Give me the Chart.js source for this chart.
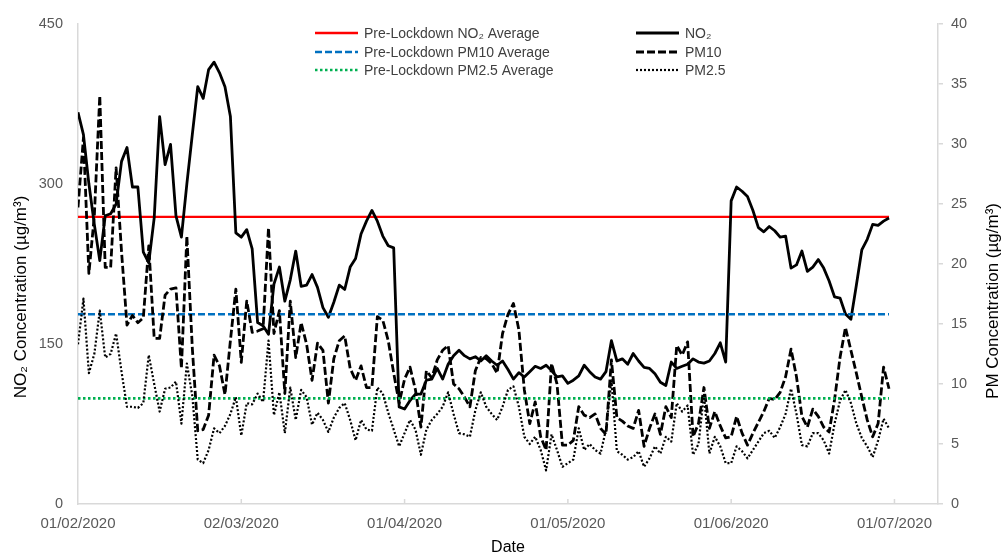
<!DOCTYPE html>
<html>
<head>
<meta charset="utf-8">
<script src="https://cdn.jsdelivr.net/npm/chart.js@4.4.1/dist/chart.umd.min.js"></script>
<style>
html,body{margin:0;padding:0;background:#fff;overflow:hidden}
#wrap{width:1002px;height:559px}
</style>
</head>
<body>
<div id="wrap"><canvas id="c" width="1002" height="559"></canvas></div>
<script>
// ---- data (daily values from 01/02/2020) ----
const no2 = [
367,346,300,262,228,270,272,281,321,334,
297,297,236,226,268,363,318,337,270,250,
300,346,391,380,407,414,404,391,363,254,
250,257,239,170,167,159,206,222,190,210,
237,204,205,215,203,184,175,189,205,201,
222,230,253,265,275,265,251,242,240,91,
89,97,103,103,116,117,127,117,131,139,
144,139,136,138,134,139,134,130,134,126,
117,123,119,124,129,127,130,125,119,120,
113,116,120,130,124,119,117,124,153,134,
136,131,141,134,128,127,122,114,111,133,
127,129,131,136,133,132,134,141,151,133,
284,297,293,288,275,259,255,260,256,250,
251,221,224,237,218,222,229,221,209,194,
193,178,173,205,238,248,262,261,265,268
];
const pm10 = [
24.7,30.5,19.2,24,34,19.7,19.7,28,21,14.9,
15.7,15.1,15.5,21.5,13.8,13.8,17.4,17.9,18,11.3,
22.3,13,6.1,6.2,7.4,12.4,11.5,9.1,13.6,17.9,
11.8,16.9,14.3,14.4,14.6,23,14.2,16.1,9.2,16.9,
12.2,15.1,13.3,10.3,13.4,12.8,8.4,12.1,13.6,14,
11.3,10.3,11.5,9.7,9.7,15.6,15.3,13.6,10.9,8.4,
10.4,11.4,9.5,6.4,11.1,10.5,12,12.8,13.2,10,
9.6,8.9,8.1,11.1,12.2,12.1,11.7,10.9,14.2,15.8,
16.7,14.5,9.5,6.7,8.5,5.6,4.5,11.7,10,4.9,
4.9,5.3,8.1,7.4,7.2,7.5,6.3,5.8,12,7.2,
6.9,6.5,6.3,7.8,4.8,6.3,7.5,5.8,8.1,7.2,
13.2,12.4,13.5,5.6,6.7,9.7,6.3,7.7,6.5,5.5,
5.6,7.3,5.9,4.9,5.9,6.8,7.7,8.8,8.7,9.3,
10.6,12.9,10.6,7.3,6.4,7.9,7.3,6.4,6,8.7,
12.2,14.7,12.8,10.9,8.9,7,5.6,6.7,11.4,9.6
];
const pm25 = [
13.3,17.1,10.9,12.5,16.1,12.2,12.5,14.2,11,8.1,
8.1,8,8.4,12.4,10,7.7,9.6,9.7,10.2,6.7,
11.7,9,3.7,3.4,4.5,6.3,5.9,6.5,7.5,8.9,
5.7,8.4,8.3,9.2,8.5,13.6,7.4,9.3,5.9,9.7,
7,9.5,8.9,6.6,7.6,7,6,7.2,8,8.4,
7,5.3,7,6.2,6.1,9.7,9.2,7.6,6.2,4.8,
5.9,7,6.2,4.1,6.2,7,7.5,8.1,9.3,7.5,
5.9,5.8,5.6,7.8,9.3,8.1,7.5,7,8.1,9.5,
9.8,8.1,5.6,5,5.6,4.5,2.8,5.8,4.5,3.1,
3.4,3.7,6.3,4.5,5,4.5,4.2,6.2,10.3,4.4,
4.1,3.7,3.9,4.4,3.1,3.8,4.8,4.2,5.6,5.2,
8.4,7.7,8.2,4.1,5,9.1,4.2,5.6,4.8,3.4,
3.4,4.8,4.4,3.8,4.5,5.2,5.9,6.1,5.5,6.4,
7.5,9.6,7.5,4.9,4.8,5.9,5.9,5.3,4.2,6.7,
8.6,9.5,8.4,6.7,5.5,4.8,3.9,5.3,7.1,6.3
];
const preLockdownAvg = [269, 15.8, 8.8];   // NO2, PM10, PM2.5
const tickDays = [0, 30, 60, 90, 120, 150];
const tickLabels = ['01/02/2020','02/03/2020','01/04/2020','01/05/2020','01/06/2020','01/07/2020'];
const leftTicks = [0, 150, 300, 450];
const rightTicks = [0, 5, 10, 15, 20, 25, 30, 35, 40];
const seriesLabels = ['Pre-Lockdown NO\u2082 Average','Pre-Lockdown PM10 Average','Pre-Lockdown PM2.5 Average','NO\u2082','PM10','PM2.5'];
const axisTitles = ['NO\u2082 Concentration (\u00B5g/m\u00B3)', 'PM Concentration (\u00B5g/m\u00B3)', 'Date'];

// ---- build ----
const FONT = "'Liberation Sans', Arial, sans-serif";
const pts = arr => arr.map((v, i) => ({x: i, y: v}));
const lastDay = no2.length - 1;
const flat = v => [{x: 0, y: v}, {x: lastDay, y: v}];

const datasets = [
  {label: seriesLabels[0], data: flat(preLockdownAvg[0]), yAxisID: 'y', borderColor: '#FF0000', borderWidth: 2.4, borderDash: [], order: 6},
  {label: seriesLabels[1], data: flat(preLockdownAvg[1]), yAxisID: 'y1', borderColor: '#0070C0', borderWidth: 2.6, borderDash: [7, 3], order: 4},
  {label: seriesLabels[2], data: flat(preLockdownAvg[2]), yAxisID: 'y1', borderColor: '#00B050', borderWidth: 2.6, borderDash: [2.5, 2.5], order: 2},
  {label: seriesLabels[3], data: pts(no2), yAxisID: 'y', borderColor: '#000000', borderWidth: 2.8, borderDash: [], order: 5},
  {label: seriesLabels[4], data: pts(pm10), yAxisID: 'y1', borderColor: '#000000', borderWidth: 2.8, borderDash: [8, 3], order: 3},
  {label: seriesLabels[5], data: pts(pm25), yAxisID: 'y1', borderColor: '#000000', borderWidth: 2.2, borderDash: [2, 2], order: 1}
];
datasets.forEach(d => { d.fill = false; d.pointRadius = 0; d.tension = 0; d.borderJoinStyle = 'round'; });

const extras = {
  id: 'extras',
  afterDatasetsDraw(chart) {
    const ctx = chart.ctx;
    // legend (two columns, three rows)
    const colX = [315, 636], rowY = [33, 52, 70], lineLen = 43;
    ctx.save();
    ctx.font = '14px ' + FONT;
    ctx.textBaseline = 'middle';
    ctx.textAlign = 'left';
    chart.data.datasets.forEach((ds, i) => {
      const c = Math.floor(i / 3), r = i % 3;
      const x = colX[c], y = rowY[r];
      ctx.beginPath();
      ctx.setLineDash(ds.borderDash || []);
      ctx.strokeStyle = ds.borderColor;
      ctx.lineWidth = ds.borderWidth;
      ctx.moveTo(x, y); ctx.lineTo(x + lineLen, y);
      ctx.stroke();
      ctx.setLineDash([]);
      ctx.fillStyle = '#404040';
      ctx.fillText(ds.label, x + lineLen + 6, y + 1);
    });
    ctx.restore();
  },
  afterDraw(chart) {
    const ctx = chart.ctx, xs = chart.scales.x, area = chart.chartArea;
    ctx.save();
    // inward tick marks on the date axis
    ctx.strokeStyle = '#D9D9D9';
    ctx.lineWidth = 1.5;
    tickDays.slice(1).forEach(v => {
      const px = xs.getPixelForValue(v);
      ctx.beginPath(); ctx.moveTo(px, area.bottom); ctx.lineTo(px, area.bottom - 5); ctx.stroke();
    });
    // right axis title (reads bottom to top)
    ctx.fillStyle = '#000';
    ctx.font = '17px ' + FONT;
    ctx.textAlign = 'center';
    ctx.textBaseline = 'middle';
    ctx.translate(993, 301);
    ctx.rotate(-Math.PI / 2);
    ctx.fillText(axisTitles[1], 0, 0);
    ctx.restore();
  }
};

new Chart(document.getElementById('c'), {
  type: 'line',
  data: {datasets},
  plugins: [extras],
  options: {
    responsive: false, animation: false, devicePixelRatio: 1,
    layout: {padding: {top: 22, left: 0, right: 0, bottom: 0}},
    plugins: {legend: {display: false}, tooltip: {enabled: false}},
    scales: {
      x: {
        type: 'linear', position: 'bottom', min: 0, max: 158,
        afterBuildTicks: s => { s.ticks = tickDays.map(v => ({value: v})); },
        afterFit: s => { s.height = 55; },
        grid: {display: false, drawTicks: false},
        border: {display: true, color: '#D9D9D9', width: 1.5},
        ticks: {autoSkip: false, maxRotation: 0, minRotation: 0, padding: 11, color: '#595959',
                font: {family: FONT, size: 15},
                callback: v => { const k = tickDays.indexOf(v); return k >= 0 ? tickLabels[k] : ''; }},
        title: {display: true, text: axisTitles[2], color: '#000', font: {family: FONT, size: 16}, padding: {top: 0, bottom: 2}}
      },
      y: {
        type: 'linear', position: 'left', min: 0, max: 450,
        afterBuildTicks: s => { s.ticks = leftTicks.map(v => ({value: v})); },
        afterFit: s => { s.width = 78; },
        grid: {display: false, drawTicks: false},
        border: {display: true, color: '#D9D9D9', width: 1.5},
        ticks: {padding: 15, color: '#595959', font: {family: FONT, size: 14.5}},
        title: {display: true, text: axisTitles[0] + '              ', color: '#000',
                font: {family: FONT, size: 17}, padding: {top: 11, bottom: 0}}
      },
      y1: {
        type: 'linear', position: 'right', min: 0, max: 40,
        afterBuildTicks: s => { s.ticks = rightTicks.map(v => ({value: v})); },
        afterFit: s => { s.width = 64; },
        grid: {display: true, drawOnChartArea: false, drawTicks: true, tickLength: 5, color: '#D9D9D9', lineWidth: 1.5},
        border: {display: true, color: '#D9D9D9', width: 1.5},
        ticks: {padding: 8, color: '#595959', font: {family: FONT, size: 14.5}}
      }
    }
  }
});
</script>
</body>
</html>
